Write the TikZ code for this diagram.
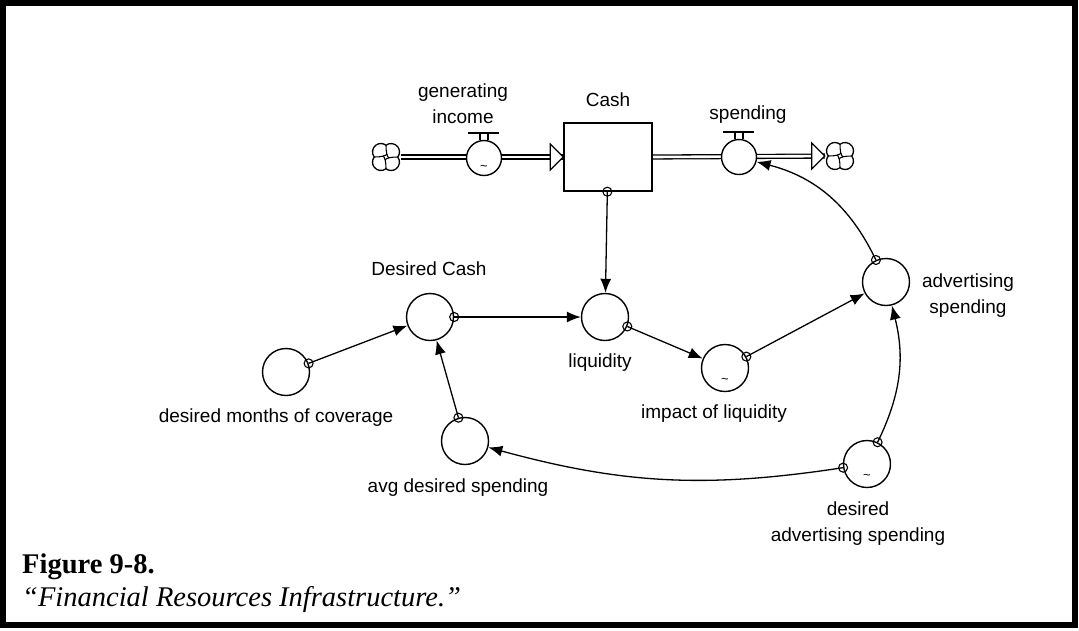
\documentclass[tikz,border=0pt]{standalone}
\usepackage{fontspec}
\setmainfont{Liberation Serif}
\setsansfont{Liberation Sans}
\usetikzlibrary{arrows.meta,backgrounds,calc}

\tikzset{
  cloudsym/.pic={
    \draw[line width=1.3pt] (9.8,0) arc[start angle=-37.3,end angle=127.3,radius=7]
      arc[start angle=52.7,end angle=217.3,radius=7]
      arc[start angle=142.7,end angle=307.3,radius=7]
      arc[start angle=232.7,end angle=397.3,radius=7];
    \foreach \a in {0,90,180,270}
      \draw[line width=1.1pt] (\a:9.8) .. controls (\a:4) and (\a+60:1) .. (\a+110:2.5);
  }
}

\begin{document}
\begin{tikzpicture}[x=1pt,y=-1pt,
  aux/.style={circle,draw,line width=1.4pt,minimum size=47pt,inner sep=0pt},
  valve/.style={circle,draw,fill=white,line width=1.4pt,minimum size=35pt,inner sep=0pt},
  stock/.style={rectangle,draw,fill=white,line width=1.4pt,minimum width=88pt,minimum height=68pt},
  lbl/.style={font=\sffamily\fontsize{19}{26}\selectfont,align=center},
  link/.style={line width=1.3pt,-{Latex[length=14pt,width=11pt]}},
  tailc/.style={circle,draw,line width=1.1pt,minimum size=9pt,inner sep=0pt},
  pipe/.style={double,line width=1.3pt,double distance=2.6pt},
  tld/.style={font=\sffamily\fontsize{13}{13}\selectfont,inner sep=0pt}]
\useasboundingbox (0,0) rectangle (1079,630);
\draw[line width=6pt] (3,3) rectangle (1074.5,624.5);

% stock, flows and clouds
\node[stock] (cash) at (608,157) {};
\node[lbl] at (608,100) {Cash};
\node[circle,minimum size=30pt,inner sep=0pt] (cloudL) at (386,157) {};
\node[circle,minimum size=30pt,inner sep=0pt] (cloudR) at (840,156) {};
\pic[scale=1.2] at (cloudL) {cloudsym};
\pic[scale=1.2] at (cloudR) {cloudsym};
\node[valve] (gi) at (484,158) {};
\node[valve] (sp) at (739,157) {};
\node[tld] at (484,168) {\textasciitilde};
\node[lbl] at (463,104) {generating\\income};
\node[lbl] at (748,115) {spending};
\foreach \v in {gi,sp} {
  \draw[line width=1.1pt] ($(\v.north)+(-4,0)$) -- ++(0,-7) ($(\v.north)+(4,0)$) -- ++(0,-7);
  \draw[line width=1.8pt] ($(\v.north)+(-16,-7)$) -- ++(31,0);
}
\begin{scope}[on background layer]
  \draw[pipe] (cloudL) -- (cash.west);
  \draw[pipe] (cash.east) -- (cloudR);
\end{scope}
\draw[line width=1.2pt,fill=white] (cash.west) -- ++(-13,-13) -- ++(0,26) -- cycle;
\draw[line width=1.2pt,fill=white] (cloudR.west) -- ++(-13,-13) -- ++(0,26) -- cycle;

% auxiliaries
\node[aux] (dc) at (430,317) {};
\node[aux] (dmc) at (286,372) {};
\node[aux] (ads) at (465,441) {};
\node[aux] (liq) at (605,317) {};
\node[aux] (imp) at (725,368) {};
\node[aux] (adv) at (886,282) {};
\node[aux] (dads) at (867,464) {};
\node[tld] at (725,381) {\textasciitilde};
\node[tld] at (867,477) {\textasciitilde};
\node[lbl] at (429,269) {Desired Cash};
\node[lbl] at (276,418) {desired months of coverage};
\node[lbl] at (458,488) {avg desired spending};
\node[lbl] at (600,363) {liquidity};
\node[lbl] at (714,414) {impact of liquidity};
\node[lbl] at (968,296) {advertising\\spending};
\node[lbl] at (858,524) {desired\\advertising spending};

% links
\draw[link] (cash) -- (liq) node[pos=0,tailc]{};
\draw[link] (dmc) -- (dc) node[pos=0,tailc]{};
\draw[link] (ads) -- (dc) node[pos=0,tailc]{};
\draw[link] (dc) -- (liq) node[pos=0,tailc]{};
\draw[link] (liq) -- (imp) node[pos=0,tailc]{};
\draw[link] (imp) -- (adv) node[pos=0,tailc]{};
\draw[link] (adv) to[bend right=25] node[pos=0,tailc]{} (sp);
\draw[link] (dads) to[bend right=20] node[pos=0,tailc]{} (adv);
\draw[link] (dads) to[bend left=12] node[pos=0,tailc]{} (ads);

% caption
\node[anchor=base west,inner sep=0pt,font=\bfseries\fontsize{28.5}{30}\selectfont] (fig) at (22,573) {Figure 9-8.};
\node[anchor=base west,inner sep=0pt,font=\itshape\fontsize{28.5}{30}\selectfont] (cap) at (22,606) {``Financial Resources Infrastructure.''};
\end{tikzpicture}
\end{document}
